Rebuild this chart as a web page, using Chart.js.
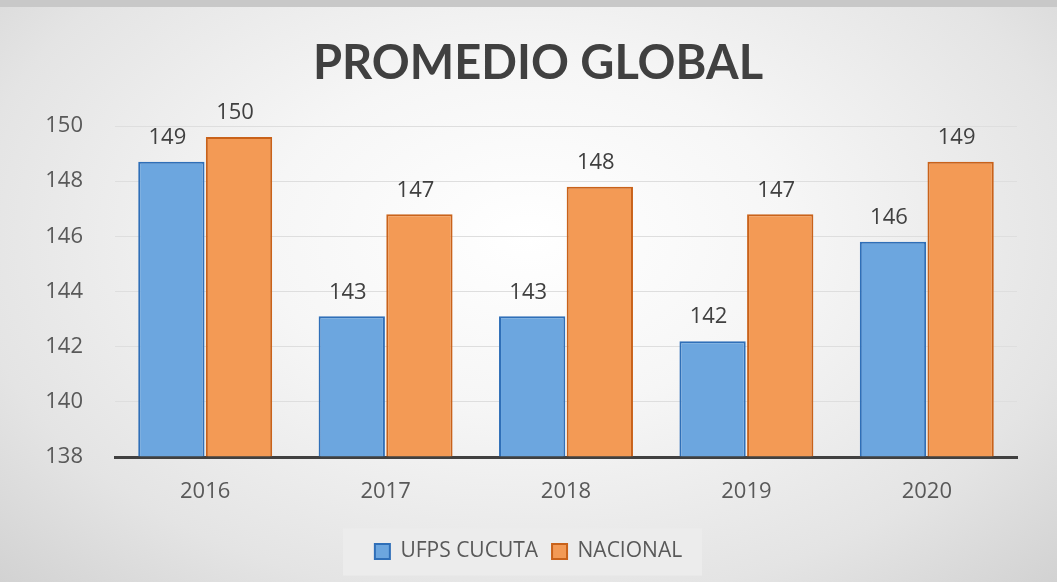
<!DOCTYPE html>
<html>
<head>
<meta charset="utf-8">
<script src="https://cdn.jsdelivr.net/npm/chart.js@4.4.1/dist/chart.umd.min.js"></script>
<style>
  html, body { margin: 0; padding: 0; }
  #wrap {
    width: 1057px; height: 582px; box-sizing: border-box;
    border-top: 7px solid #c8c8c8;
    background: radial-gradient(ellipse at 50% 40%, #ffffff 0%, #f6f6f6 35%, #e4e4e4 75%, #d2d2d2 100%);
  }
  canvas { display: block; }
</style>
</head>
<body>
<div id="wrap"><canvas id="c" width="1057" height="575"></canvas></div>
<script>
const categories = ["2016", "2017", "2018", "2019", "2020"];
const ufpsValues = [148.7, 143.1, 143.1, 142.2, 145.8];
const nacionalValues = [149.6, 146.8, 147.8, 146.8, 148.7];
const seriesNames = ["UFPS CUCUTA", "NACIONAL"];
const chartTitle = "PROMEDIO GLOBAL";
const yMin = 138, yMax = 150, yStep = 2;

const FONT = "'Open Sans', 'Liberation Sans', sans-serif";

const titlePlugin = {
  id: 'titlePlugin',
  afterDraw(chart) {
    const ctx = chart.ctx;
    ctx.save();
    ctx.font = "bold 47px Lato, 'Open Sans', sans-serif";
    ctx.fillStyle = '#404040';
    ctx.textAlign = 'center';
    ctx.textBaseline = 'middle';
    ctx.fillText(chartTitle, 538, 57);
    ctx.restore();
  }
};

const dataLabels = {
  id: 'dataLabels',
  afterDatasetsDraw(chart) {
    const ctx = chart.ctx;
    ctx.save();
    ctx.font = "22px " + FONT;
    ctx.fillStyle = '#404040';
    ctx.textAlign = 'center';
    ctx.textBaseline = 'middle';
    chart.data.datasets.forEach((ds, i) => {
      chart.getDatasetMeta(i).data.forEach((bar, j) => {
        ctx.fillText(Math.round(ds.data[j]).toString(), bar.x - 4, bar.y - 24);
      });
    });
    ctx.restore();
  }
};

const legendBg = {
  id: 'legendBg',
  beforeDraw(chart) {
    const lg = chart.legend;
    if (!lg || !lg.legendHitBoxes || !lg.legendHitBoxes.length) return;
    const hb = lg.legendHitBoxes;
    const l = hb[0].left - 32, r = hb[hb.length - 1].left + hb[hb.length - 1].width + 20;
    const cy = hb[0].top + hb[0].height / 2;
    const ctx = chart.ctx;
    ctx.save();
    ctx.fillStyle = 'rgba(236,236,236,0.9)';
    ctx.fillRect(l, cy - 23, r - l, 47);
    ctx.restore();
  }
};

new Chart(document.getElementById('c'), {
  type: 'bar',
  data: {
    labels: categories,
    datasets: [
      { label: seriesNames[0], data: ufpsValues, backgroundColor: '#6CA6DF', borderColor: '#2F6FB8', borderWidth: 2 },
      { label: seriesNames[1], data: nacionalValues, backgroundColor: '#F39A55', borderColor: '#C9621A', borderWidth: 2 }
    ]
  },
  options: {
    responsive: false,
    animation: false,
    layout: { padding: { left: 40, right: 40, top: 119, bottom: 10 } },
    datasets: { bar: { categoryPercentage: 0.75, barPercentage: 0.98, base: yMin } },
    plugins: {
      title: { display: false },
      legend: {
        position: 'bottom',
        labels: {
          color: '#595959', font: { family: FONT, size: 21 },
          boxWidth: 15, boxHeight: 15, padding: 14, useBorderRadius: false
        }
      },
      tooltip: { enabled: false }
    },
    scales: {
      x: {
        grid: { display: false },
        border: { display: true, color: '#404040', width: 3 },
        ticks: { color: '#595959', font: { family: FONT, size: 22 }, padding: 14 },
        afterFit(s) { s.height = 70; }
      },
      y: {
        min: yMin, max: yMax,
        grid: { color: '#dedede', lineWidth: 1, drawTicks: false },
        border: { display: false },
        ticks: { stepSize: yStep, color: '#595959', font: { family: FONT, size: 22 }, padding: 32 },
        afterFit(s) { s.width = 75; }
      }
    }
  },
  plugins: [legendBg, dataLabels, titlePlugin]
});
</script>
</body>
</html>
